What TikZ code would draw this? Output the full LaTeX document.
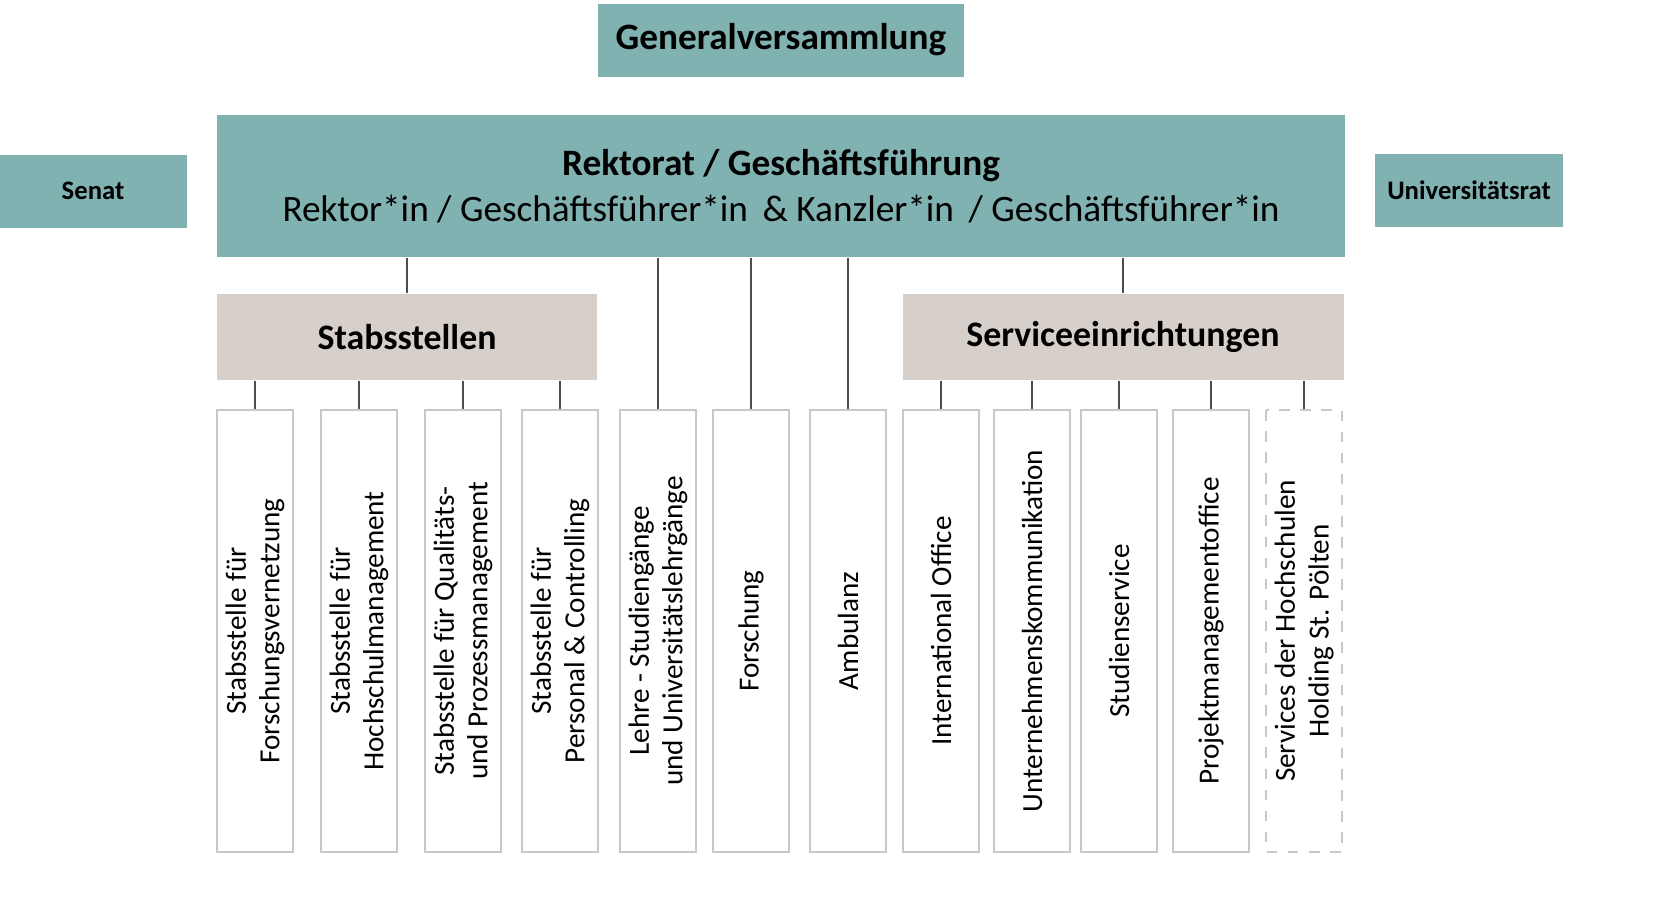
\documentclass[tikz,border=0pt]{standalone}
\usepackage{fontspec}
\setmainfont{Carlito}
\definecolor{teal1}{HTML}{7FB2B0}
\definecolor{grey1}{HTML}{D6CFCA}
\definecolor{line1}{HTML}{C8C8C8}
\tikzset{
  head/.style={fill=teal1, inner sep=0pt, align=center},
  group/.style={fill=grey1, inner sep=0pt, font=\bfseries\fontsize{10.2}{12}\selectfont},
  unit/.style={draw=line1, rotate=90, minimum width=44.2mm, minimum height=7.6mm, inner sep=0pt, align=center, font=\fontsize{8.3}{9.6}\selectfont},
  link/.style={draw=black!70, line width=0.5pt}
}
\begin{document}
\begin{tikzpicture}[x=0.1mm, y=-0.1mm]
  \useasboundingbox (0,0) rectangle (1670,914);
  \node[head, minimum width=36.6mm, minimum height=7.3mm, font=\bfseries\fontsize{10.6}{13}\selectfont] (gv) at (781,40) {Generalversammlung};
  \node[head, minimum width=112.8mm, minimum height=14.2mm] (rek) at (781,186) {{\bfseries\fontsize{10.6}{13}\selectfont Rektorat / Geschäftsführung}\\[1pt]{\fontsize{10.6}{13}\selectfont Rektor*in / Geschäftsführer*in \,\& Kanzler*in \,/ Geschäftsführer*in}};
  \node[head, minimum width=18.7mm, minimum height=7.3mm, font=\bfseries\fontsize{7.6}{9}\selectfont] (senat) at (93,191) {Senat};
  \node[head, minimum width=18.8mm, minimum height=7.3mm, font=\bfseries\fontsize{7.6}{9}\selectfont] (urat) at (1469,190) {Universitätsrat};
  \node[group, minimum width=38mm, minimum height=8.6mm] (stab) at (407,337) {Stabsstellen};
  \node[group, minimum width=44.1mm, minimum height=8.6mm] (serv) at (1123,337) {Serviceeinrichtungen};
  % units
  \node[unit] (u1) at (255,631) {Stabsstelle für\\Forschungsvernetzung};
  \node[unit] (u2) at (359,631) {Stabsstelle für\\Hochschulmanagement};
  \node[unit] (u3) at (463,631) {Stabsstelle für Qualitäts-\\und Prozessmanagement};
  \node[unit] (u4) at (560,631) {Stabsstelle für\\Personal \& Controlling};
  \node[unit] (u5) at (658,631) {Lehre - Studiengänge\\und Universitätslehrgänge};
  \node[unit] (u6) at (751,631) {Forschung};
  \node[unit] (u7) at (848,631) {Ambulanz};
  \node[unit] (u8) at (941,631) {International Office};
  \node[unit] (u9) at (1032,631) {Unternehmenskommunikation};
  \node[unit] (u10) at (1119,631) {Studienservice};
  \node[unit] (u11) at (1211,631) {Projektmanagementoffice};
  \node[unit, dashed] (u12) at (1304,631) {Services der Hochschulen\\Holding St. Pölten};
  % links
  \draw[link] (rek.south -| stab.north) -- (stab.north);
  \draw[link] (rek.south -| serv.north) -- (serv.north);
  \foreach \u in {u5,u6,u7}
    \draw[link] (rek.south -| \u.east) -- (\u.east);
  \foreach \u in {u1,u2,u3,u4}
    \draw[link] (stab.south -| \u.east) -- (\u.east);
  \foreach \u in {u8,u9,u10,u11,u12}
    \draw[link] (serv.south -| \u.east) -- (\u.east);
\end{tikzpicture}
\end{document}
